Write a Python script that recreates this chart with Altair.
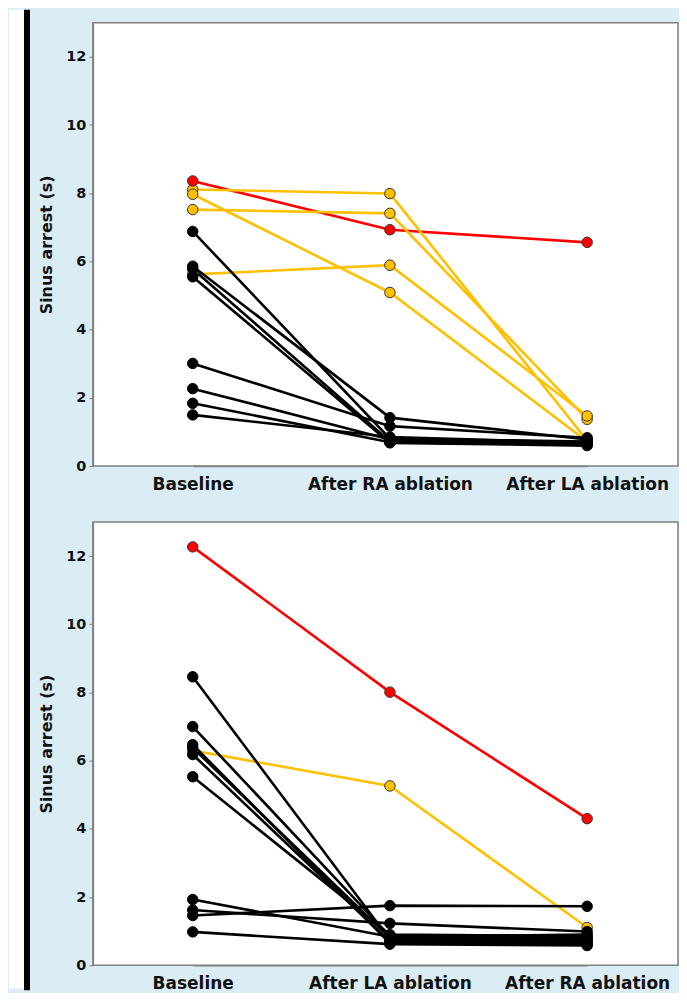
import altair as alt
import pandas as pd

# ---------------- data ----------------
TOP_STAGES = ["Baseline", "After RA ablation", "After LA ablation"]
BOTTOM_STAGES = ["Baseline", "After LA ablation", "After RA ablation"]

TOP_RED = [[8.36, 6.93, 6.56]]
TOP_YELLOW = [
    [8.11, 7.99, 0.75],
    [7.97, 5.09, 0.72],
    [7.52, 7.41, 1.37],
    [5.62, 5.89, 1.47],
]
TOP_BLACK = [
    [6.88, 0.80, 0.72],
    [5.86, 1.42, 0.78],
    [5.78, 0.72, 0.65],
    [5.55, 0.68, 0.60],
    [3.01, 1.17, 0.83],
    [2.27, 0.78, 0.70],
    [1.84, 0.70, 0.62],
    [1.50, 0.85, 0.68],
]

BOTTOM_RED = [[12.27, 8.01, 4.30]]
BOTTOM_YELLOW = [[6.30, 5.26, 1.11]]
BOTTOM_BLACK = [
    [8.46, 0.75, 0.70],
    [7.00, 0.85, 0.80],
    [6.47, 0.65, 0.62],
    [6.38, 0.80, 0.75],
    [6.18, 0.70, 0.65],
    [5.53, 0.90, 0.85],
    [1.93, 0.84, 0.90],
    [1.62, 1.23, 0.99],
    [1.46, 1.75, 1.73],
    [0.98, 0.62, 0.58],
]

Y_TICKS = [0, 2, 4, 6, 8, 10, 12]
Y_DOMAIN = [0, 13]
Y_TITLE = "Sinus arrest (s)"

LINE_COLORS = {"red": "#FF0000", "yellow": "#FFC000", "black": "#000000"}
POINT_STROKES = {"red": "#333333", "yellow": "#333333", "black": "#000000"}

FONT = "DejaVu Sans"
BG = "#daedf4"
GREY = "#808080"

PLOT_W = 586
PLOT_H = 444


def make_df(stages, groups):
    rows = []
    for gname, series in groups.items():
        for i, vals in enumerate(series):
            for k, (s, v) in enumerate(zip(stages, vals)):
                rows.append({"group": gname, "id": f"{gname}{i}", "k": k,
                             "stage": s, "value": v})
    return pd.DataFrame(rows)


def panel(stages, df, frame=False):
    x = alt.X("stage:N", sort=stages,
              scale=alt.Scale(type="point", range=[100, 495], padding=0),
              axis=alt.Axis(title=None, labelAngle=0, ticks=False,
                            labelFontSize=17, labelFont=FONT,
                            labelFontWeight="bold", labelColor="#111111",
                            labelPadding=10, domainColor=GREY, domainWidth=1.5))
    y = alt.Y("value:Q",
              scale=alt.Scale(domain=Y_DOMAIN, nice=False, zero=True),
              axis=alt.Axis(values=Y_TICKS, title=Y_TITLE, grid=False,
                            labelFontSize=14.5, labelFont=FONT,
                            labelFontWeight="bold", labelColor="#111111",
                            labelPadding=3, tickSize=4, tickColor=GREY,
                            domainColor=GREY, domainWidth=1.5,
                            titleFont=FONT, titleFontSize=16,
                            titleFontWeight="bold", titleColor="#111111",
                            titlePadding=11))
    layers = []
    if frame:
        one = pd.DataFrame({"a": [0]})
        layers.append(alt.Chart(one).mark_rect(color="white").encode(
            x=alt.value(-84), x2=alt.value(-69), y=alt.value(-13), y2=alt.value(969)))
        layers.append(alt.Chart(one).mark_rect(color="#e6ecf8").encode(
            x=alt.value(-84), x2=alt.value(-69), y=alt.value(967), y2=alt.value(969)))
        layers.append(alt.Chart(one).mark_rect(color="black").encode(
            x=alt.value(-69), x2=alt.value(-63), y=alt.value(-13), y2=alt.value(969)))
    for g in ["red", "yellow", "black"]:
        layers.append(
            alt.Chart(df).transform_filter(alt.datum.group == g)
            .mark_line(color=LINE_COLORS[g], strokeWidth=2.6)
            .encode(x=x, y=y, detail="id:N", order="k:Q")
        )
    for g in ["yellow", "black", "red"]:
        layers.append(
            alt.Chart(df).transform_filter(alt.datum.group == g)
            .mark_point(shape="circle", filled=True, color=LINE_COLORS[g],
                        fill=LINE_COLORS[g], stroke=POINT_STROKES[g],
                        strokeWidth=1, size=110, opacity=1)
            .encode(x=x, y=y)
        )
    return alt.layer(*layers).properties(width=PLOT_W, height=PLOT_H)


top_df = make_df(TOP_STAGES, {"red": TOP_RED, "yellow": TOP_YELLOW, "black": TOP_BLACK})
bot_df = make_df(BOTTOM_STAGES, {"red": BOTTOM_RED, "yellow": BOTTOM_YELLOW, "black": BOTTOM_BLACK})

top = panel(TOP_STAGES, top_df, frame=True)
bottom = panel(BOTTOM_STAGES, bot_df)

chart = (
    alt.vconcat(top, bottom, spacing=56, bounds="flush")
    .resolve_scale(x="independent", y="independent")
    .properties(padding={"left": 0, "top": 0, "right": 0, "bottom": 0})
    .configure(background=BG)
    .configure_view(stroke=GREY, strokeWidth=1.5, fill="white")
)

chart.save("out.html", embed_options={"renderer": "svg", "actions": False})
